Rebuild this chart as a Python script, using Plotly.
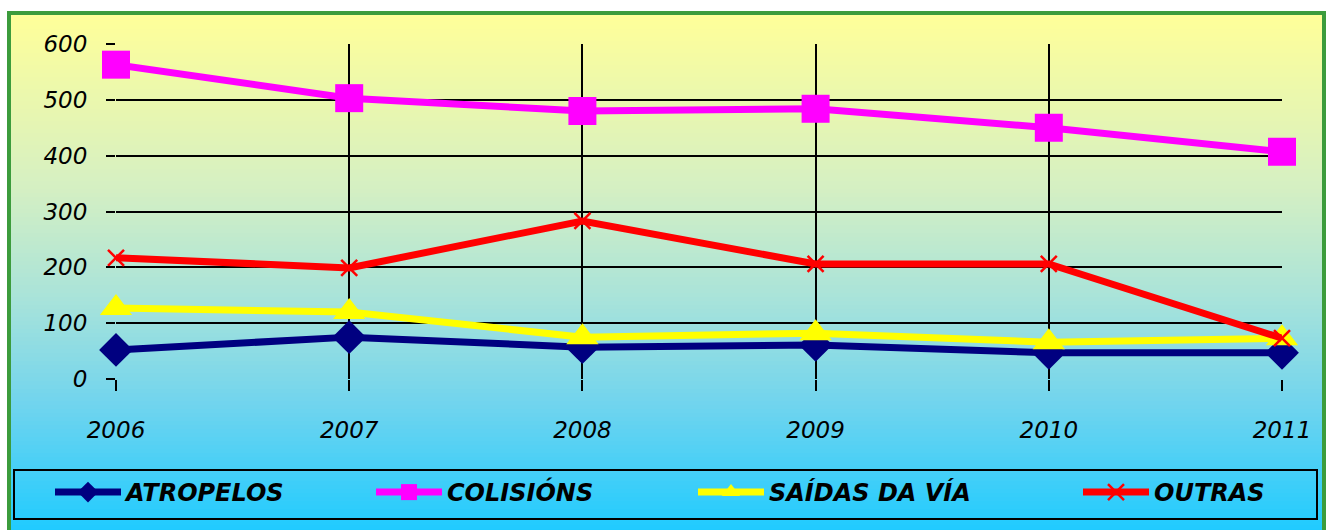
import plotly.graph_objects as go

years = [2006, 2007, 2008, 2009, 2010, 2011]
atropelos = [52, 75, 57, 61, 47, 47]
colisions = [563, 503, 480, 484, 450, 407]
saidas = [127, 120, 75, 82, 66, 73]
outras = [217, 199, 283, 206, 206, 73]
y_ticks = [0, 100, 200, 300, 400, 500, 600]

# body margin is removed by post_script, so figure px == window px
OFF = 0
W, H = 1329 - OFF, 530 - OFF
L, R, T, B = 116 - OFF, 47, 44 - OFF, 151
FONT = "DejaVu Sans"

plot_w = W - L - R
plot_h = H - T - B

def fx(px_win):
    return (px_win - OFF - L) / plot_w

def fy(py_win):
    return (H - B - (py_win - OFF)) / plot_h

fig = go.Figure()

series = [
    ("ATROPELOS", atropelos, "#000080", "diamond", 26, 0, "legend"),
    ("COLISIÓNS", colisions, "#FF00FF", "square", 28, 0, "legend2"),
    ("SAÍDAS DA VÍA", saidas, "#FFFF00", "triangle-up", 28, 0, "legend3"),
    ("OUTRAS", outras, "#FF0000", "x-thin", 16, 2.5, "legend4"),
]
for name, vals, col, sym, size, lw, lg in series:
    fig.add_trace(go.Scatter(
        x=years, y=vals, name=name, mode="lines+markers",
        line=dict(color=col, width=7),
        marker=dict(symbol=sym, size=size, color=col,
                    line=dict(width=lw, color=col)),
        cliponaxis=False, legend=lg,
    ))

# background gradient (decoration)
stops = [(13, (0xFF, 0xFF, 0x99)), (185, (0xD6, 0xF0, 0xC2)),
         (300, (0xA8, 0xE3, 0xDA)), (405, (0x70, 0xD4, 0xEE)),
         (530, (0x20, 0xCB, 0xFF))]

def color_at(py):
    for (a, ca), (b, cb) in zip(stops[:-1], stops[1:]):
        if a <= py <= b:
            t = (py - a) / (b - a)
            c = [round(ca[i] + t * (cb[i] - ca[i])) for i in range(3)]
            return "rgb(%d,%d,%d)" % tuple(c)
    return "rgb(32,203,255)"

shapes = []
step = 4
py = 13
while py < 530:
    y0, y1 = py, min(py + step, 530)
    shapes.append(dict(type="rect", xref="paper", yref="paper",
                       x0=fx(9), x1=fx(1324), y0=fy(y1 + 0.6), y1=fy(y0),
                       line=dict(width=0), fillcolor=color_at((y0 + y1) / 2),
                       layer="below"))
    py += step

# green frame
shapes.append(dict(type="rect", xref="paper", yref="paper",
                   x0=fx(9), x1=fx(1324), y0=fy(534), y1=fy(13),
                   line=dict(color="#3C9C3C", width=4), layer="below"))
# legend box
shapes.append(dict(type="rect", xref="paper", yref="paper",
                   x0=fx(14), x1=fx(1317), y0=fy(519), y1=fy(470),
                   line=dict(color="black", width=2), layer="above"))

leg_font = dict(family=FONT, size=24, color="black", weight="bold", style="italic")

def leg(x_win):
    return dict(
        orientation="h", xref="container", yref="container",
        x=(x_win - 7 - OFF) / W, y=1 - (470 - OFF) / H,
        xanchor="left", yanchor="top",
        bgcolor="rgba(0,0,0,0)", borderwidth=0,
        font=leg_font, itemwidth=66, itemclick=False, itemdoubleclick=False,
    )

fig.update_layout(
    width=W, height=H,
    margin=dict(l=L, r=R, t=T, b=B, pad=0),
    paper_bgcolor="white",
    plot_bgcolor="rgba(0,0,0,0)",
    shapes=shapes,
    showlegend=True,
    hovermode=False,
    legend=leg(57), legend2=leg(378), legend3=leg(700), legend4=leg(1085),
    xaxis=dict(
        range=[2006, 2011], tickvals=years, ticktext=[str(y) for y in years],
        showgrid=True, gridcolor="black", gridwidth=2,
        zeroline=False, showline=False,
        ticks="outside", ticklen=11, tickwidth=2, tickcolor="black",
        ticklabelstandoff=19,
        tickfont=dict(family=FONT, size=23, color="black", style="italic"),
    ),
    yaxis=dict(
        range=[0, 600], tickvals=y_ticks,
        showgrid=True, gridcolor="black", gridwidth=2,
        zeroline=False, showline=False,
        ticks="outside", ticklen=9, tickwidth=2, tickcolor="black",
        ticklabelstandoff=14,
        tickfont=dict(family=FONT, size=23, color="black", style="italic"),
    ),
)

fig.write_html(
    "out.html",
    config={"displayModeBar": False},
    post_script="document.body.style.margin='0';"
                "document.documentElement.style.overflow='hidden';"
                "document.body.style.overflow='hidden';",
)
